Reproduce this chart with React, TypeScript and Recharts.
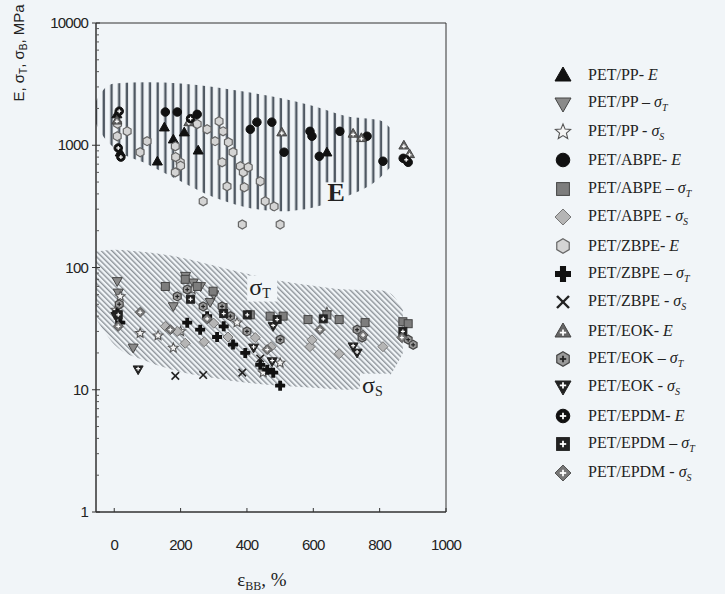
import React from 'react';
import { ComposedChart, Area, Scatter, XAxis, YAxis, ReferenceArea, ReferenceDot } from 'recharts';

// envelope of the hatched regions (x = elongation, values in MPa)
const envX = [-55, -30, 0, 100, 200, 300, 400, 500, 600, 700, 800, 830, 870];
const envETop = [2300, 2900, 3200, 3280, 3200, 3000, 2720, 2430, 2090, 1730, 1600, 1400, null];
const envEBot = [1500, 1150, 950, 700, 507, 375, 310, 288, 310, 380, 540, 650, null];
const envSTop = [135, 138, 140, 133, 121, 104, 89, 78, 71, 66, 65, 62, 45];
const envSBot = [38, 30, 23.4, 17, 14, 12.5, 11.4, 10.8, 10.4, 10, 11, 13, 20];

const ppE = [[18, 877], [130, 740], [151, 1405], [178, 1120], [211, 1280], [253, 910], [641, 877], [8, 1800]];
const ppST = [[9, 77], [12, 62], [178, 48], [238, 75], [289, 52], [215, 85], [260, 70], [300, 60], [57, 22]];
const ppSS = [[78, 29], [132, 27.7], [178, 22], [18, 58], [235, 66], [370, 35.4], [641, 43], [500, 16.6], [449, 13.8], [5, 45], [200, 30]];
const abpeE = [[154, 1870], [190, 1870], [250, 1790], [410, 1350], [430, 1545], [475, 1545], [512, 877], [590, 1300], [596, 1185], [618, 812], [680, 1300], [762, 1185], [810, 740], [871, 782], [886, 725]];
const abpeST = [[154, 70], [410, 41], [470, 40], [509, 40], [584, 37.5], [641, 41], [678, 37.5], [756, 35.4], [870, 36], [886, 34.7], [214, 80], [298, 64], [328, 47], [250, 70]];
const abpeSS = [[154, 33], [214, 24], [271, 24.7], [425, 26.7], [473, 22.5], [590, 22.5], [678, 19.7], [810, 22.5], [343, 27], [596, 25.6], [190, 30], [300, 35]];
const zbpeE = [[9, 1185], [39, 1300], [78, 877], [99, 1080], [184, 980], [184, 600], [199, 725], [280, 1350], [304, 1080], [325, 725], [340, 461], [344, 1060], [358, 877], [380, 673], [389, 600], [392, 453], [404, 660], [440, 507], [268, 348], [455, 348], [482, 316], [386, 225], [500, 225], [316, 1570], [250, 1490], [328, 1300], [10, 1500], [185, 800], [200, 680]];
const zbpeST = [[220, 35.4], [259, 31], [310, 27], [358, 23.4], [395, 20], [440, 16], [461, 14.6], [479, 13.8], [500, 10.8], [9, 43], [18, 35.4], [280, 40], [330, 33]];
const zbpeSS = [[184, 13], [268, 13.2], [386, 13.8], [440, 18]];
const eokE = [[8, 1600], [225, 1550], [505, 1280], [720, 1250], [745, 1150], [873, 1000], [890, 850]];
const eokST = [[500, 25.7], [886, 25.7], [901, 23.3], [732, 31], [747, 26.7], [325, 48], [268, 48], [220, 66], [190, 58], [350, 40], [400, 30], [15, 50]];
const eokSS = [[72, 14.6], [476, 17], [720, 22.5], [732, 20], [479, 33], [5, 40], [420, 22]];
const epdmE = [[15, 1900], [12, 950], [20, 800], [230, 1650], [880, 760]];
const epdmST = [[12, 41], [401, 41], [630, 38], [870, 30], [491, 37.5], [230, 55], [330, 42]];
const epdmSS = [[12, 33], [169, 31], [461, 21.3], [867, 26.7], [620, 31], [78, 43], [280, 38], [750, 28]];

const xTicks = [0, 200, 400, 600, 800, 1000];
const yMajor = [1, 10, 100, 1000, 10000];
const yTicks = yMajor.flatMap((d) => (d === 10000 ? [d] : [1, 2, 3, 4, 5, 6, 7, 8, 9].map((k) => k * d)));

const SERIES = [
  { name: 'PET/PP', sym: 'E', data: ppE, shape: 'triUp', fill: '#111', stroke: '#111' },
  { name: 'PET/PP', sym: 'T', data: ppST, shape: 'triDown', fill: '#8a8a8a', stroke: '#444' },
  { name: 'PET/PP', sym: 'S', data: ppSS, shape: 'star', fill: '#f4f4f4', stroke: '#555' },
  { name: 'PET/ABPE', sym: 'E', data: abpeE, shape: 'circle', fill: '#111', stroke: '#111' },
  { name: 'PET/ABPE', sym: 'T', data: abpeST, shape: 'square', fill: '#7d7d7d', stroke: '#444' },
  { name: 'PET/ABPE', sym: 'S', data: abpeSS, shape: 'diamond', fill: '#b5b5b5', stroke: '#777' },
  { name: 'PET/ZBPE', sym: 'E', data: zbpeE, shape: 'hexagon', fill: '#d4d4d4', stroke: '#666' },
  { name: 'PET/ZBPE', sym: 'T', data: zbpeST, shape: 'plus', fill: '#111', stroke: '#111' },
  { name: 'PET/ZBPE', sym: 'S', data: zbpeSS, shape: 'cross', fill: '#111', stroke: '#222' },
  { name: 'PET/EOK', sym: 'E', data: eokE, shape: 'triUp', fill: '#666', stroke: '#444', inner: '#fff' },
  { name: 'PET/EOK', sym: 'T', data: eokST, shape: 'hexagon', fill: '#9a9a9a', stroke: '#444', inner: '#222' },
  { name: 'PET/EOK', sym: 'S', data: eokSS, shape: 'triDown', fill: '#222', stroke: '#222', inner: '#fff' },
  { name: 'PET/EPDM', sym: 'E', data: epdmE, shape: 'circle', fill: '#111', stroke: '#111', inner: '#fff' },
  { name: 'PET/EPDM', sym: 'T', data: epdmST, shape: 'square', fill: '#222', stroke: '#222', inner: '#fff' },
  { name: 'PET/EPDM', sym: 'S', data: epdmSS, shape: 'diamond', fill: '#777', stroke: '#555', inner: '#fff' },
];

const envelope = envX.map((x, i) => ({
  x,
  e: envETop[i] == null ? null : [envEBot[i], envETop[i]],
  s: [envSBot[i], envSTop[i]],
}));

const BG = '#f1f5f8';
const poly = (pts: number[][]) => pts.map((p) => p.join(',')).join(' ');

function Marker({ cx, cy, s, cfg }: any) {
  const { shape, fill, stroke, inner } = cfg;
  let body: any = null;
  if (shape === 'triUp') {
    body = <polygon points={poly([[cx, cy - s], [cx + s, cy + s * 0.75], [cx - s, cy + s * 0.75]])} fill={fill} stroke={stroke} />;
  } else if (shape === 'triDown') {
    body = <polygon points={poly([[cx - s, cy - s * 0.75], [cx + s, cy - s * 0.75], [cx, cy + s]])} fill={fill} stroke={stroke} />;
  } else if (shape === 'circle') {
    body = <circle cx={cx} cy={cy} r={s * 0.85} fill={fill} stroke={stroke} />;
  } else if (shape === 'square') {
    body = <rect x={cx - s * 0.8} y={cy - s * 0.8} width={s * 1.6} height={s * 1.6} fill={fill} stroke={stroke} />;
  } else if (shape === 'diamond') {
    body = <polygon points={poly([[cx, cy - s], [cx + s, cy], [cx, cy + s], [cx - s, cy]])} fill={fill} stroke={stroke} />;
  } else if (shape === 'hexagon') {
    const pts = [0, 1, 2, 3, 4, 5].map((k) => {
      const a = (Math.PI / 3) * k - Math.PI / 2;
      return [cx + s * 0.9 * Math.cos(a), cy + s * 0.9 * Math.sin(a)];
    });
    body = <polygon points={poly(pts)} fill={fill} stroke={stroke} strokeWidth={1.2} />;
  } else if (shape === 'plus') {
    const w = s * 0.38;
    body = (
      <polygon
        points={poly([
          [cx - w, cy - s], [cx + w, cy - s], [cx + w, cy - w], [cx + s, cy - w], [cx + s, cy + w], [cx + w, cy + w],
          [cx + w, cy + s], [cx - w, cy + s], [cx - w, cy + w], [cx - s, cy + w], [cx - s, cy - w], [cx - w, cy - w],
        ])}
        fill={fill}
      />
    );
  } else if (shape === 'cross') {
    body = (
      <g stroke={stroke} strokeWidth={Math.max(1.6, s * 0.3)}>
        <line x1={cx - s * 0.75} y1={cy - s * 0.75} x2={cx + s * 0.75} y2={cy + s * 0.75} />
        <line x1={cx - s * 0.75} y1={cy + s * 0.75} x2={cx + s * 0.75} y2={cy - s * 0.75} />
      </g>
    );
  } else if (shape === 'star') {
    const pts = [];
    for (let k = 0; k < 10; k++) {
      const a = (Math.PI / 5) * k - Math.PI / 2;
      const r = k % 2 === 0 ? s : s * 0.45;
      pts.push([cx + r * Math.cos(a), cy + r * Math.sin(a)]);
    }
    body = <polygon points={poly(pts)} fill={fill} stroke={stroke} strokeWidth={1.1} />;
  }
  const off = shape === 'triUp' ? s * 0.2 : shape === 'triDown' ? -s * 0.2 : 0;
  return (
    <g>
      {body}
      {inner && (
        <g stroke={inner} strokeWidth={Math.max(1.2, s * 0.22)}>
          <line x1={cx - s * 0.4} x2={cx + s * 0.4} y1={cy + off} y2={cy + off} />
          <line x1={cx} x2={cx} y1={cy + off - s * 0.4} y2={cy + off + s * 0.4} />
        </g>
      )}
    </g>
  );
}

const tickFont = { fontFamily: '"Liberation Sans", Arial, sans-serif', fontSize: 15, letterSpacing: -0.8, fill: '#222' };

function YTick(props: any) {
  const { x, y, payload } = props;
  const v = payload.value;
  if (!yMajor.includes(v)) return <line x1={x} x2={x + 3} y1={y} y2={y} stroke="#555" />;
  return (
    <g>
      <line x1={x - 4} x2={x + 4} y1={y} y2={y} stroke="#333" />
      <text x={x - 8} y={y} dy={5} textAnchor="end" {...tickFont}>{v}</text>
    </g>
  );
}

function XTick(props: any) {
  const { x, y, payload } = props;
  return (
    <g>
      <line x1={x} x2={x} y1={y} y2={y - 4} stroke="#333" />
      <text x={x} y={y + 38} textAnchor="middle" {...tickFont}>{payload.value}</text>
    </g>
  );
}

const serif = '"Liberation Serif", "Times New Roman", serif';

function SymLabel({ sym }: { sym: string }) {
  if (sym === 'E') return <i>E</i>;
  return (
    <span>
      <i>σ</i>
      <sub style={{ fontSize: 10, fontStyle: 'italic' }}>{sym}</sub>
    </span>
  );
}

function regionLabel(main: string, sub: string, bold = false) {
  return (p: any) => {
    const w = sub ? 30 : 22;
    return (
      <g>
        <rect x={p.viewBox.x - 12} y={p.viewBox.y - 13} width={w} height={26} fill={BG} />
        <text x={p.viewBox.x + (sub ? -10 : 0)} y={p.viewBox.y} fontFamily={serif} fill="#222" textAnchor={sub ? 'start' : 'middle'} dominantBaseline="middle">
          <tspan fontSize={bold ? 26 : 24} fontWeight={bold ? 'bold' : 'normal'}>{main}</tspan>
          {sub && <tspan fontSize={14} dy={6}>{sub}</tspan>}
        </text>
      </g>
    );
  };
}

export default function App() {
  return (
    <div style={{ position: 'absolute', left: 0, top: 0, width: 725, height: 594, background: BG }}>
      <svg width={0} height={0} style={{ position: 'absolute' }}>
        <defs>
          <pattern id="hatchE" width={7.7} height={10} patternUnits="userSpaceOnUse">
            <rect x={2.5} y={0} width={2.4} height={10} fill="#4f5862" />
          </pattern>
          <pattern id="hatchS" width={3.8} height={10} patternUnits="userSpaceOnUse" patternTransform="rotate(-45)">
            <rect x={0} y={0} width={1.4} height={10} fill="#8d9399" />
          </pattern>
        </defs>
      </svg>
      <ComposedChart width={725} height={594} data={envelope} margin={{ top: 23, right: 279, bottom: 42, left: 36 }}>
        <XAxis
          type="number"
          dataKey="x"
          domain={[-55, 1000]}
          ticks={xTicks}
          allowDataOverflow
          stroke="#333"
          tickLine={false}
          tickSize={0}
          tickMargin={0}
          height={40}
          tick={<XTick />}
          label={{
            content: (p: any) => (
              <text x={p.viewBox.x + 166} y={p.viewBox.y + 74} fontFamily={serif} fontSize={19} fill="#222" textAnchor="middle">
                ε<tspan fontSize={12} dy={4}>BB</tspan>
                <tspan dy={-4}>, %</tspan>
              </text>
            ),
          }}
        />
        <YAxis
          scale="log"
          domain={[1, 10000]}
          ticks={yTicks}
          allowDataOverflow
          width={60}
          stroke="#333"
          tickLine={false}
          tickSize={0}
          tickMargin={0}
          interval={0}
          tick={<YTick />}
          label={{
            content: (p: any) => (
              <text
                x={0}
                y={0}
                transform={`translate(${p.viewBox.x - 12}, ${p.viewBox.y + 30}) rotate(-90)`}
                fontFamily={tickFont.fontFamily}
                fontSize={15}
                fill="#222"
                textAnchor="middle"
              >
                E, σ<tspan fontSize={10} dy={3}>T</tspan>
                <tspan dy={-3}>, σ</tspan>
                <tspan fontSize={10} dy={3}>B</tspan>
                <tspan dy={-3}>, MPa</tspan>
              </text>
            ),
          }}
        />
        <Area dataKey="e" type="monotone" stroke="none" fill="url(#hatchE)" fillOpacity={1} isAnimationActive={false} dot={false} activeDot={false} />
        <Area dataKey="s" type="monotone" stroke="none" fill="url(#hatchS)" fillOpacity={1} isAnimationActive={false} dot={false} activeDot={false} />
        <ReferenceArea x1={-55} x2={1000} y1={1} y2={10000} fill="none" stroke="#333" strokeWidth={1} />
        <ReferenceDot x={672} y={382} r={1} fill="none" stroke="none" label={{ content: regionLabel('E', '', true) }} />
        <ReferenceDot x={440} y={66} r={1} fill="none" stroke="none" label={{ content: regionLabel('σ', 'T') }} />
        <ReferenceDot x={780} y={10.4} r={1} fill="none" stroke="none" label={{ content: regionLabel('σ', 'S') }} />
        {SERIES.map((cfg, i) => (
          <Scatter
            key={i}
            name={`${cfg.name} ${cfg.sym}`}
            data={cfg.data.map(([x, y]) => ({ x, y }))}
            dataKey="y"
            isAnimationActive={false}
            shape={(p: any) => <Marker cx={p.cx} cy={p.cy} s={5} cfg={cfg} />}
          />
        ))}
      </ComposedChart>
      <div style={{ position: 'absolute', left: 552, top: 61, fontFamily: serif, fontSize: 16, color: '#222' }}>
        {SERIES.map((cfg, i) => (
          <div key={i} style={{ height: 28.4, display: 'flex', alignItems: 'center', whiteSpace: 'nowrap' }}>
            <svg width={24} height={22} style={{ marginRight: 12 }}>
              <Marker cx={11} cy={11} s={8} cfg={cfg} />
            </svg>
            <span>
              {cfg.name}
              {cfg.sym === 'E' ? '- ' : cfg.sym === 'T' ? ' – ' : ' - '}
              <SymLabel sym={cfg.sym} />
            </span>
          </div>
        ))}
      </div>
    </div>
  );
}
